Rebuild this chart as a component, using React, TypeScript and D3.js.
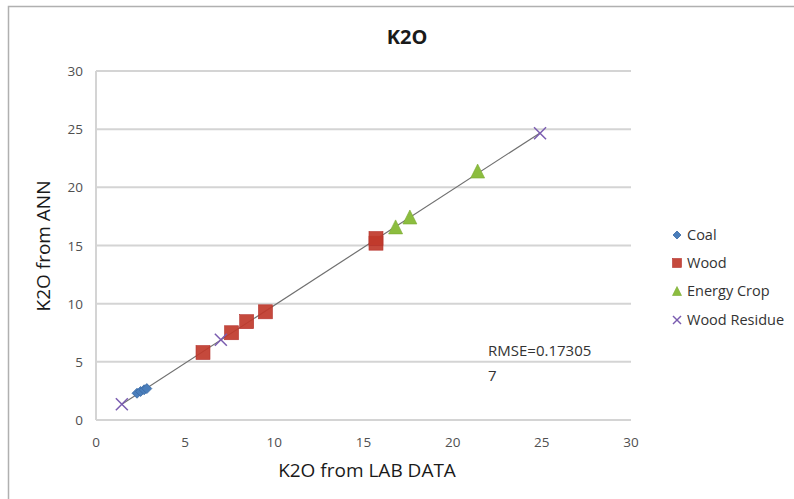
import React from "react";
import * as d3 from "d3";

const coalX = [2.3, 2.5, 2.7, 2.85];
const coalY = [2.3, 2.45, 2.6, 2.7];
const woodX = [6.0, 7.6, 8.45, 9.5, 15.7, 15.7];
const woodY = [5.8, 7.5, 8.45, 9.3, 15.2, 15.6];
const cropX = [16.8, 17.6, 21.4];
const cropY = [16.6, 17.45, 21.4];
const residueX = [1.45, 7.0, 24.9];
const residueY = [1.35, 6.9, 24.65];
const ticks = [0, 5, 10, 15, 20, 25, 30];
const legendLabels = ["Coal", "Wood", "Energy Crop", "Wood Residue"];

const FONT = "'Open Sans', Lato, sans-serif";

export default function App() {
  const W = 794, H = 499;
  const x = d3.scaleLinear().domain([0, 30]).range([96, 631]);
  const y = d3.scaleLinear().domain([0, 30]).range([420, 71]);

  const allX = [...coalX, ...woodX, ...cropX, ...residueX];
  const allY = [...coalY, ...woodY, ...cropY, ...residueY];
  const mx = d3.mean(allX)!, my = d3.mean(allY)!;
  const slope = d3.sum(allX.map((v, i) => (v - mx) * (allY[i] - my))) / d3.sum(allX.map(v => (v - mx) ** 2));
  const icpt = my - slope * mx;
  const x0 = d3.min(allX)!, x1 = d3.max(allX)!;

  const diamond = (cx: number, cy: number, k: number, r = 5) => (
    <path key={k} d={`M${cx},${cy - r}L${cx + r},${cy}L${cx},${cy + r}L${cx - r},${cy}Z`} fill="#4a7ebb" stroke="#3a6aa5" strokeWidth={0.8} />
  );
  const square = (cx: number, cy: number, k: number, s = 14) => (
    <rect key={k} x={cx - s / 2} y={cy - s / 2} width={s} height={s} fill="#c0392b" fillOpacity={0.92} stroke="#b5322d" strokeWidth={0.6} />
  );
  const tri = (cx: number, cy: number, k: number, s = 14) => (
    <path key={k} d={`M${cx},${cy - s / 2}L${cx + s / 2},${cy + s / 2}L${cx - s / 2},${cy + s / 2}Z`} fill="#8cbd3f" stroke="#7aab33" strokeWidth={0.6} />
  );
  const cross = (cx: number, cy: number, k: number, r = 6) => (
    <g key={k} stroke="#7a5cb0" strokeWidth={1.5}>
      <line x1={cx - r} y1={cy - r} x2={cx + r} y2={cy + r} />
      <line x1={cx - r} y1={cy + r} x2={cx + r} y2={cy - r} />
    </g>
  );

  const legendY = [235, 263, 291, 320];

  return (
    <svg width={W} height={H} style={{ position: "absolute", left: 0, top: 0, background: "#fff" }}>
      <rect x={8.5} y={6.5} width={W + 20} height={H + 20} fill="none" stroke="#b0b0b0" strokeWidth={1.5} />
      {ticks.map(t => (
        <line key={"g" + t} x1={x(0)} x2={x(30)} y1={y(t)} y2={y(t)} stroke="#d4d4d4" strokeWidth={2} />
      ))}
      <line x1={x(0)} x2={x(0)} y1={y(0)} y2={y(30)} stroke="#d4d4d4" strokeWidth={2} />
      {ticks.map(t => (
        <text key={"yl" + t} x={x(0) - 13} y={y(t) + 5} textAnchor="end" fontFamily={FONT} fontSize={13.5} fill="#505050">{t}</text>
      ))}
      {ticks.map(t => (
        <text key={"xl" + t} x={x(t)} y={447} textAnchor="middle" fontFamily={FONT} fontSize={13.5} fill="#505050">{t}</text>
      ))}
      <text x={407} y={44} textAnchor="middle" fontFamily={FONT} fontSize={20} fontWeight="bold" fill="#1a1a1a">K2O</text>
      <text x={367} y={477} textAnchor="middle" fontFamily={FONT} fontSize={19} fill="#1a1a1a">K2O from LAB DATA</text>
      <text transform={`translate(50,246) rotate(-90)`} textAnchor="middle" fontFamily={FONT} fontSize={19} fill="#1a1a1a">K2O from ANN</text>

      <line x1={x(x0)} y1={y(slope * x0 + icpt)} x2={x(x1)} y2={y(slope * x1 + icpt)} stroke="#707070" strokeWidth={1.2} />

      {woodX.map((v, i) => square(x(v), y(woodY[i]), i))}
      {cropX.map((v, i) => tri(x(v), y(cropY[i]), i))}
      {coalX.map((v, i) => diamond(x(v), y(coalY[i]), i))}
      {residueX.map((v, i) => cross(x(v), y(residueY[i]), i))}

      <text x={488} y={356} fontFamily={FONT} fontSize={15} fill="#333">RMSE=0.17305</text>
      <text x={488} y={381} fontFamily={FONT} fontSize={15} fill="#333">7</text>

      {diamond(677, legendY[0], 100, 4)}
      {square(677, legendY[1], 101, 9)}
      {tri(677, legendY[2], 102, 9)}
      {cross(677, legendY[3], 103, 4)}
      {legendLabels.map((l, i) => (
        <text key={l} x={687} y={legendY[i] + 5} fontFamily={FONT} fontSize={14.5} fill="#333">{l}</text>
      ))}
    </svg>
  );
}
